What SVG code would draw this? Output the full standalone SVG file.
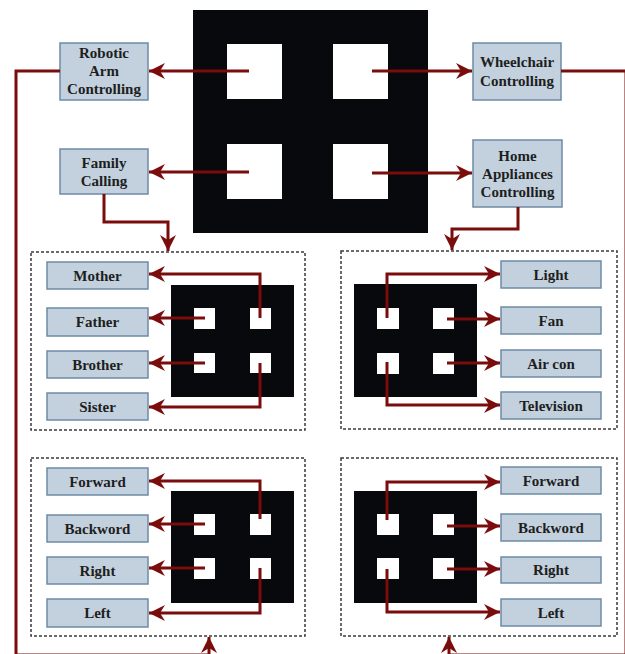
<svg xmlns="http://www.w3.org/2000/svg" width="625" height="654" viewBox="0 0 625 654">
<style>
.bg{fill:#ffffff}
.blk{fill:#07090c}
.hole{fill:#ffffff}
.box{fill:#c2d1dd;stroke:#6d8ba5;stroke-width:1.5}
.grp{fill:none;stroke:#3a3a3a;stroke-width:1.5;stroke-dasharray:3 2}
.lbl{font-family:"Liberation Serif","Times New Roman",serif;font-weight:bold;font-size:15px;fill:#1e1e1e;text-anchor:middle}
.cn{fill:none;stroke:#7b0c0c;stroke-width:3}
.arr{marker-end:url(#ah)}
</style>
<defs>
<marker id="ah" markerUnits="userSpaceOnUse" markerWidth="18" markerHeight="18" viewBox="0 -9 18 18" refX="16" refY="0" orient="auto">
<path d="M0,-8 L16,0 L0,8 L5,0 Z" fill="#7b0c0c"/>
</marker>
</defs>
<rect class="bg" x="0" y="0" width="625" height="654"/>

<g id="main-board">
<rect class="blk" x="193" y="10" width="235" height="223"/>
<rect class="hole" x="227" y="44" width="55" height="55"/>
<rect class="hole" x="333" y="44" width="55" height="55"/>
<rect class="hole" x="227" y="144" width="55" height="55"/>
<rect class="hole" x="333" y="144" width="55" height="55"/>
</g>

<g id="robotic-arm">
<rect class="box" x="60" y="43" width="88" height="57"/>
<text class="lbl" x="104" y="58">Robotic</text>
<text class="lbl" x="104" y="76">Arm</text>
<text class="lbl" x="104" y="94">Controlling</text>
</g>
<g id="family-calling">
<rect class="box" x="60" y="149" width="88" height="45"/>
<text class="lbl" x="104" y="168">Family</text>
<text class="lbl" x="104" y="186">Calling</text>
</g>
<g id="wheelchair">
<rect class="box" x="473" y="43" width="88" height="57"/>
<text class="lbl" x="517" y="67">Wheelchair</text>
<text class="lbl" x="517" y="86">Controlling</text>
</g>
<g id="home-appliances">
<rect class="box" x="473" y="140" width="89" height="67"/>
<text class="lbl" x="517.5" y="161">Home</text>
<text class="lbl" x="517.5" y="179">Appliances</text>
<text class="lbl" x="517.5" y="197">Controlling</text>
</g>

<!-- Family panel -->
<g id="family-panel">
<rect class="grp" x="31" y="252" width="274" height="178"/>
<rect class="blk" x="171" y="285" width="123" height="112"/>
<rect class="hole" x="194" y="308" width="21" height="21"/>
<rect class="hole" x="250" y="308" width="21" height="21"/>
<rect class="hole" x="194" y="353" width="21" height="20"/>
<rect class="hole" x="250" y="353" width="21" height="20"/>
</g>
<g id="mother"><rect class="box" x="47" y="262" width="101" height="27"/><text class="lbl" x="97.5" y="281">Mother</text></g>
<g id="father"><rect class="box" x="47" y="308" width="101" height="28"/><text class="lbl" x="97.5" y="327">Father</text></g>
<g id="brother"><rect class="box" x="47" y="351" width="101" height="27"/><text class="lbl" x="97.5" y="370">Brother</text></g>
<g id="sister"><rect class="box" x="47" y="393" width="101" height="27"/><text class="lbl" x="97.5" y="412">Sister</text></g>

<!-- Appliance panel -->
<g id="appliance-panel">
<rect class="grp" x="341" y="251" width="276" height="178"/>
<rect class="blk" x="354" y="284" width="123" height="113"/>
<rect class="hole" x="377" y="308" width="22" height="21"/>
<rect class="hole" x="433" y="308" width="21" height="21"/>
<rect class="hole" x="377" y="353" width="22" height="21"/>
<rect class="hole" x="433" y="353" width="21" height="21"/>
</g>
<g id="light"><rect class="box" x="501" y="261" width="100" height="27"/><text class="lbl" x="551" y="280">Light</text></g>
<g id="fan"><rect class="box" x="501" y="307" width="100" height="27"/><text class="lbl" x="551" y="326">Fan</text></g>
<g id="aircon"><rect class="box" x="501" y="350" width="100" height="27"/><text class="lbl" x="551" y="369">Air con</text></g>
<g id="television"><rect class="box" x="501" y="392" width="100" height="27"/><text class="lbl" x="551" y="411">Television</text></g>

<!-- Wheelchair-left panel -->
<g id="wheel-panel-left">
<rect class="grp" x="31" y="458" width="274" height="178"/>
<rect class="blk" x="171" y="491" width="123" height="112"/>
<rect class="hole" x="194" y="514" width="21" height="21"/>
<rect class="hole" x="250" y="514" width="21" height="21"/>
<rect class="hole" x="194" y="558" width="21" height="21"/>
<rect class="hole" x="250" y="558" width="21" height="21"/>
</g>
<g id="forward-l"><rect class="box" x="47" y="468" width="101" height="27"/><text class="lbl" x="97.5" y="487">Forward</text></g>
<g id="backword-l"><rect class="box" x="47" y="515" width="101" height="27"/><text class="lbl" x="97.5" y="534">Backword</text></g>
<g id="right-l"><rect class="box" x="47" y="557" width="101" height="27"/><text class="lbl" x="97.5" y="576">Right</text></g>
<g id="left-l"><rect class="box" x="47" y="599" width="101" height="28"/><text class="lbl" x="97.5" y="618">Left</text></g>

<!-- Wheelchair-right panel -->
<g id="wheel-panel-right">
<rect class="grp" x="341" y="458" width="276" height="178"/>
<rect class="blk" x="354" y="491" width="123" height="112"/>
<rect class="hole" x="377" y="514" width="22" height="21"/>
<rect class="hole" x="433" y="514" width="21" height="21"/>
<rect class="hole" x="377" y="558" width="22" height="21"/>
<rect class="hole" x="433" y="558" width="21" height="21"/>
</g>
<g id="forward-r"><rect class="box" x="501" y="467" width="100" height="27"/><text class="lbl" x="551" y="486">Forward</text></g>
<g id="backword-r"><rect class="box" x="501" y="514" width="100" height="27"/><text class="lbl" x="551" y="533">Backword</text></g>
<g id="right-r"><rect class="box" x="501" y="557" width="100" height="26"/><text class="lbl" x="551" y="575">Right</text></g>
<g id="left-r"><rect class="box" x="501" y="599" width="100" height="27"/><text class="lbl" x="551" y="618">Left</text></g>

<g id="connectors">
<!-- main board -->
<path class="cn arr" d="M249,71 L149,71"/>
<path class="cn arr" d="M249,172 L149,172"/>
<path class="cn arr" d="M372,71 L472,71"/>
<path class="cn arr" d="M372,173 L472,173"/>
<path class="cn arr" d="M104,194 L104,222 L168,222 L168,251"/>
<path class="cn arr" d="M518,207 L518,229 L452,229 L452,250"/>
<path class="cn" d="M60,71 L16,71 L16,655 L209,655"/>
<path class="cn arr" d="M209,660 L209,637"/>
<path class="cn" d="M561,71 L626,71 L626,655 L449,655"/>
<path class="cn arr" d="M449,660 L449,637"/>
<!-- family -->
<path class="cn arr" d="M260,318 L260,274 L149,274"/>
<path class="cn arr" d="M205,318 L149,318"/>
<path class="cn arr" d="M205,363 L149,363"/>
<path class="cn arr" d="M260,363 L260,407 L149,407"/>
<!-- appliances -->
<path class="cn arr" d="M387,318 L387,274 L500,274"/>
<path class="cn arr" d="M447,319 L500,319"/>
<path class="cn arr" d="M447,363 L500,363"/>
<path class="cn arr" d="M387,362 L387,405 L500,405"/>
<!-- wheel left -->
<path class="cn arr" d="M260,519 L260,481 L149,481"/>
<path class="cn arr" d="M205,524 L149,524"/>
<path class="cn arr" d="M205,568 L149,568"/>
<path class="cn arr" d="M260,568 L260,613 L149,613"/>
<!-- wheel right -->
<path class="cn arr" d="M387,520 L387,482 L500,482"/>
<path class="cn arr" d="M447,526 L500,526"/>
<path class="cn arr" d="M447,569 L500,569"/>
<path class="cn arr" d="M387,569 L387,612 L500,612"/>
</g>
</svg>
